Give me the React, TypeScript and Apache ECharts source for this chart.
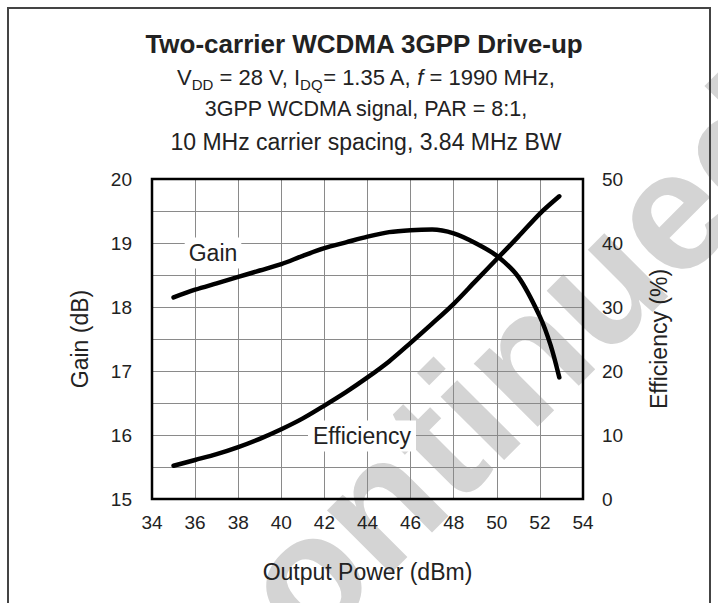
import React, { useEffect, useRef } from "react";
import * as echarts from "echarts";

// ---- data ----
const gainPower = [35, 36, 37, 38, 39, 40, 41, 42, 43, 44, 45, 46, 47, 48, 49, 50, 51, 52, 52.5, 52.9];
const gainDb = [18.15, 18.27, 18.37, 18.47, 18.57, 18.67, 18.8, 18.92, 19.01, 19.1, 19.17, 19.2, 19.21, 19.15, 19.0, 18.8, 18.47, 17.85, 17.4, 16.9];
const effPower = [35, 36, 37, 38, 39, 40, 41, 42, 43, 44, 45, 46, 47, 48, 49, 50, 51, 52, 52.9];
const effPct = [5.2, 6.1, 7.0, 8.1, 9.4, 10.9, 12.6, 14.6, 16.7, 19.0, 21.5, 24.4, 27.4, 30.5, 34.0, 37.5, 41.0, 44.6, 47.3];

const xTicks = { min: 34, max: 54, step: 2 };
const gainTicks = { min: 15, max: 20, step: 1 };
const effTicks = { min: 0, max: 50, step: 10 };

const titleLine = "Two-carrier WCDMA 3GPP Drive-up";
const subLines = [
  "{n|V}{s|DD}{n| = 28 V, I}{s|DQ}{n|= 1.35 A, }{i|f}{n| = 1990 MHz,}",
  "{m|3GPP WCDMA signal, PAR = 8:1,}",
  "{l|10 MHz carrier spacing, 3.84 MHz BW}",
];

const FONT = '"Liberation Sans", Arial, sans-serif';
const TXT = "#222";

export default function App() {
  const ref = useRef<HTMLDivElement>(null);
  useEffect(() => {
    if (!ref.current) return;
    const chart = echarts.init(ref.current, null, { renderer: "svg" });
    const rich = {
      n: { fontSize: 22, fontFamily: FONT, fill: TXT, color: TXT, lineHeight: 32 },
      m: { fontSize: 21.5, fontFamily: FONT, fill: TXT, color: TXT, lineHeight: 32 },
      l: { fontSize: 23, fontFamily: FONT, fill: TXT, color: TXT, lineHeight: 32 },
      i: { fontSize: 22, fontFamily: FONT, fontStyle: "italic", fill: TXT, color: TXT, lineHeight: 32 },
      s: { fontSize: 15, fontFamily: FONT, fill: TXT, color: TXT, padding: [14, 0, 0, 0] },
    };
    const subCenters = [77, 109, 142];
    const wmAngle = (45 * Math.PI) / 180;
    chart.setOption({
      animation: false,
      backgroundColor: "#fff",
      grid: {
        left: 152,
        right: 135,
        top: 179,
        bottom: 104,
        show: true,
        borderColor: "#000",
        borderWidth: 2.5,
        z: 3,
      },
      xAxis: {
        type: "value",
        min: xTicks.min,
        max: xTicks.max,
        interval: xTicks.step,
        name: "Output Power (dBm)",
        nameLocation: "middle",
        nameGap: 61,
        nameTextStyle: { fontFamily: FONT, fontSize: 23, color: TXT },
        axisLine: { show: false },
        axisTick: { show: false },
        axisLabel: { fontFamily: FONT, fontSize: 19, color: TXT, margin: 14 },
        splitLine: { show: true, lineStyle: { color: "#8a8a8a", width: 1 } },
      },
      yAxis: [
        {
          type: "value",
          min: gainTicks.min,
          max: gainTicks.max,
          interval: gainTicks.step,
          name: "Gain (dB)",
          nameLocation: "middle",
          nameGap: 61,
          nameRotate: 90,
          nameTextStyle: { fontFamily: FONT, fontSize: 23, color: TXT },
          axisLine: { show: false },
          axisTick: { show: false },
          axisLabel: { fontFamily: FONT, fontSize: 19, color: TXT, margin: 20 },
          splitLine: { show: true, lineStyle: { color: "#8a8a8a", width: 1 } },
          minorTick: { show: false, splitNumber: 2 },
          minorSplitLine: { show: true, lineStyle: { color: "#8a8a8a", width: 1 } },
        },
        {
          type: "value",
          position: "right",
          min: effTicks.min,
          max: effTicks.max,
          interval: effTicks.step,
          name: "Efficiency (%)",
          nameLocation: "middle",
          nameGap: 64,
          nameRotate: 90,
          nameTextStyle: { fontFamily: FONT, fontSize: 23, color: TXT },
          axisLine: { show: false },
          axisTick: { show: false },
          axisLabel: { fontFamily: FONT, fontSize: 19, color: TXT, margin: 19 },
          splitLine: { show: false },
        },
      ],
      series: [
        {
          type: "line",
          name: "Gain",
          yAxisIndex: 0,
          data: gainPower.map((p, k) => [p, gainDb[k]]),
          showSymbol: false,
          smooth: 0.3,
          lineStyle: { color: "#000", width: 4.5, cap: "round", join: "round" },
          z: 5,
        },
        {
          type: "line",
          name: "Efficiency",
          yAxisIndex: 1,
          data: effPower.map((p, k) => [p, effPct[k]]),
          showSymbol: false,
          smooth: 0.3,
          lineStyle: { color: "#000", width: 4.5, cap: "round", join: "round" },
          z: 5,
        },
      ],
      graphic: [
        {
          type: "text",
          z: -100,
          zlevel: 0,
          x: 394,
          y: 487,
          rotation: wmAngle,
          silent: true,
          style: {
            text: "Discontinued",
            font: `bold 170px ${FONT}`,
            fill: "#d4d4d4",
            align: "center",
            verticalAlign: "middle",
            textAlign: "center",
            textVerticalAlign: "middle",
          },
        },
        {
          type: "rect",
          z: 50,
          shape: { x: 8, y: 8, width: 702, height: 640 },
          style: { fill: "none", stroke: "#444", lineWidth: 2 },
          silent: true,
        },
        {
          type: "text",
          z: 50,
          x: 364,
          y: 44,
          style: {
            text: titleLine,
            font: `bold 26px ${FONT}`,
            fill: TXT,
            align: "center",
            verticalAlign: "middle",
            textAlign: "center",
            textVerticalAlign: "middle",
          },
        },
        ...subLines.map((t, k) => ({
          type: "text",
          z: 50,
          x: 366,
          y: subCenters[k],
          style: {
            text: t,
            rich,
            font: `22px ${FONT}`,
            fill: TXT,
            align: "center",
            verticalAlign: "middle",
            textAlign: "center",
            textVerticalAlign: "middle",
          },
        })),
        {
          type: "text",
          z: 50,
          x: 213,
          y: 253,
          style: {
            text: "Gain",
            font: `23px ${FONT}`,
            fill: TXT,
            backgroundColor: "#fff",
            padding: [4, 4, 4, 4],
            align: "center",
            verticalAlign: "middle",
            textAlign: "center",
            textVerticalAlign: "middle",
          },
        },
        {
          type: "text",
          z: 50,
          x: 362,
          y: 436,
          style: {
            text: "Efficiency",
            font: `23px ${FONT}`,
            fill: TXT,
            backgroundColor: "#fff",
            padding: [4, 5, 4, 5],
            align: "center",
            verticalAlign: "middle",
            textAlign: "center",
            textVerticalAlign: "middle",
          },
        },
      ],
    });
    return () => chart.dispose();
  }, []);
  return (
    <div
      ref={ref}
      style={{ position: "absolute", left: 0, top: 0, width: 718, height: 603 }}
    />
  );
}
